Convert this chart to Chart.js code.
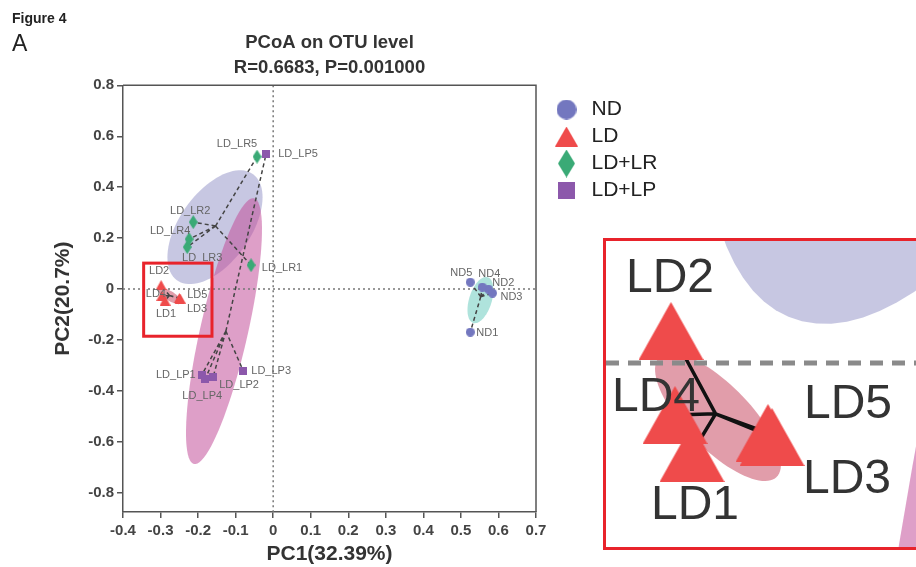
<!DOCTYPE html>
<html>
<head>
<meta charset="utf-8">
<script src="https://cdn.jsdelivr.net/npm/chart.js@4.4.1/dist/chart.umd.min.js"></script>
<style>
html,body{margin:0;padding:0;overflow:hidden;background:#fff;}
body{position:relative;width:916px;height:567px;font-family:"Liberation Sans",Arial,sans-serif;color:#222;}
#main{position:absolute;left:0;top:0;}
#fig{position:absolute;left:12px;top:10px;font-size:14px;font-weight:bold;}
#panel{position:absolute;left:12px;top:30px;font-size:23px;}
#zoomBox{position:absolute;left:603px;top:238px;width:330px;height:306px;border:3px solid #e8232b;background:#fff;}
#inset{display:block;}
</style>
</head>
<body>
<canvas id="main" width="916" height="567"></canvas>
<div id="fig">Figure 4</div>
<div id="panel">A</div>
<div id="zoomBox"><canvas id="inset" width="330" height="306"></canvas></div>
<script>
// Datos
const groupNames=["ND","LD","LD+LR","LD+LP"];
const ndNames=["ND1","ND2","ND3","ND4","ND5"];
const ndPC1=[0.525,0.573,0.584,0.557,0.525];
const ndPC2=[-0.169,0.000,-0.016,0.008,0.027];
const ldNames=["LD1","LD2","LD3","LD4","LD5"];
const ldPC1=[-0.288,-0.2985,-0.248,-0.2965,-0.250];
const ldPC2=[-0.045,0.016,-0.037,-0.026,-0.035];
const lrNames=["LD_LR1","LD_LR2","LD_LR3","LD_LR4","LD_LR5"];
const lrPC1=[-0.059,-0.213,-0.229,-0.224,-0.043];
const lrPC2=[0.094,0.263,0.165,0.196,0.520];
const lpNames=["LD_LP1","LD_LP2","LD_LP3","LD_LP4","LD_LP5"];
const lpPC1=[-0.190,-0.160,-0.080,-0.181,-0.019];
const lpPC2=[-0.337,-0.345,-0.320,-0.353,0.530];

// Elipses de confianza: centro y dos semiejes (unidades PC1/PC2), orden ND, LD, LD+LR, LD+LP
const ellCx=[0.552,-0.275,-0.155,-0.131];
const ellCy=[-0.043,-0.027,0.243,-0.165];
const ellAx=[0.0187,-0.0293,0.1267,0.080];
const ellAy=[0.090,0.030,0.1176,0.5216];
const ellBx=[0.029,0.0115,0,0.062];
const ellBy=[-0.0118,0.0112,-0.190,-0.021];

// Ejes
const xTicks=[-0.4,-0.3,-0.2,-0.1,0,0.1,0.2,0.3,0.4,0.5,0.6,0.7];
const yTicks=[-0.8,-0.6,-0.4,-0.2,0,0.2,0.4,0.6,0.8];
const zoomPC1=[-0.345,-0.163];
const zoomPC2=[-0.185,0.102];
const insetPC1=[-0.331,-0.166];
const insetPC2=[-0.092,0.061];

const groupPC1=[ndPC1,ldPC1,lrPC1,lpPC1];
const groupPC2=[ndPC2,ldPC2,lrPC2,lpPC2];
const groupLabels=[ndNames,ldNames,lrNames,lpNames];

// Estilos
const FONT='"Liberation Sans", Arial, sans-serif';
Chart.defaults.font.family=FONT;
const colors=["#7377bf","#ef4b4b","#3aaa76","#8c58ab"];
const shapes=["circle","triangle","diamond","square"];
const ellFill=["rgba(95,200,185,0.5)","rgba(195,60,85,0.5)","rgba(130,130,190,0.45)","rgba(195,80,155,0.55)"];
const ellOrder=[2,3,0,1];
const sizeMain=[[9,9],[11,10],[9,14],[8,8]];
const sizeLegend=[[20,20],[23,20],[17,28],[17,17]];
const sizeInset=[[40,40],[65,58],[40,62],[38,38]];

const labelShiftMain={ND1:[17,1],ND2:[15,-6],ND3:[19,4],ND4:[7,-13],ND5:[-9,-9],
  LD1:[1,13],LD2:[-2,-14],LD3:[17,10],LD4:[-6,-2],LD5:[18,-3],
  LD_LR1:[31,3],LD_LR2:[-3,-11],LD_LR3:[15,11],LD_LR4:[-19,-8],LD_LR5:[-20,-13],
  LD_LP1:[-26,0],LD_LP2:[26,8],LD_LP3:[28,0],LD_LP4:[-3,17],LD_LP5:[32,0]};
const labelShiftInset={LD1:[3,53],LD2:[-1,-52],LD3:[75,43],LD4:[-19,-17],LD5:[80,-28]};

function marker(shape,w,h,color){
  const c=document.createElement("canvas");c.width=w;c.height=h;
  const g=c.getContext("2d");g.fillStyle=color;g.beginPath();
  if(shape==="circle") g.ellipse(w/2,h/2,w/2,h/2,0,0,Math.PI*2);
  else if(shape==="triangle"){g.moveTo(w/2,0);g.lineTo(w,h);g.lineTo(0,h);g.closePath();}
  else if(shape==="diamond"){g.moveTo(w/2,0);g.lineTo(w,h/2);g.lineTo(w/2,h);g.lineTo(0,h/2);g.closePath();}
  else g.rect(0,0,w,h);
  g.fill();
  return c;
}
const mean=a=>a.reduce((s,v)=>s+v,0)/a.length;

function buildDatasets(sizes,spider){
  const ds=[];
  groupNames.forEach((g,i)=>{
    ds.push({label:g,isGroup:true,order:0,showLine:false,
      data:groupPC1[i].map((v,k)=>({x:v,y:groupPC2[i][k],name:groupLabels[i][k]})),
      pointStyle:marker(shapes[i],sizes[i][0],sizes[i][1],colors[i]),
      pointRadius:Math.max(...sizes[i])/2,pointHoverRadius:Math.max(...sizes[i])/2});
  });
  groupNames.forEach((g,i)=>{
    const cx=mean(groupPC1[i]),cy=mean(groupPC2[i]);
    const pts=[];
    groupPC1[i].forEach((v,k)=>{pts.push({x:cx,y:cy},{x:v,y:groupPC2[i][k]},{x:null,y:null});});
    ds.push({label:g+" spider",order:1,data:pts,showLine:true,spanGaps:false,pointRadius:0,pointHoverRadius:0,
      borderColor:spider.color,borderWidth:spider.width,borderDash:spider.dash});
  });
  return ds;
}

function drawEllipse(ctx,xs,ys,i){
  ctx.beginPath();
  for(let k=0;k<=90;k++){
    const t=k/90*Math.PI*2;
    const px=xs.getPixelForValue(ellCx[i]+ellAx[i]*Math.cos(t)+ellBx[i]*Math.sin(t));
    const py=ys.getPixelForValue(ellCy[i]+ellAy[i]*Math.cos(t)+ellBy[i]*Math.sin(t));
    if(k) ctx.lineTo(px,py); else ctx.moveTo(px,py);
  }
  ctx.closePath();ctx.fillStyle=ellFill[i];ctx.fill();
}

// Plugin: elipses, líneas del cero, etiquetas, marco y recuadro
const pcoaPlugin={
  id:"pcoa",
  beforeDraw(chart,args,o){
    const lg=chart.legend;
    if(o.legendAt&&lg){
      lg.left=o.legendAt[0];lg.top=o.legendAt[1];
      lg.right=lg.left+lg.width;lg.bottom=lg.top+lg.height;
    }
  },
  beforeDatasetsDraw(chart,args,o){
    const {ctx,chartArea:a,scales:{x,y}}=chart;
    ctx.save();
    ctx.beginPath();ctx.rect(a.left,a.top,a.right-a.left,a.bottom-a.top);ctx.clip();
    ellOrder.forEach(i=>drawEllipse(ctx,x,y,i));
    const x0=x.getPixelForValue(0),y0=y.getPixelForValue(0);
    ctx.setLineDash(o.zeroDash);ctx.strokeStyle=o.zeroColor;ctx.lineWidth=o.zeroWidth;
    ctx.beginPath();
    ctx.moveTo(x0,a.top);ctx.lineTo(x0,a.bottom);
    ctx.moveTo(a.left,y0);ctx.lineTo(a.right,y0);
    ctx.stroke();
    ctx.restore();
  },
  afterDatasetsDraw(chart,args,o){
    const {ctx,chartArea:a,scales:{x,y}}=chart;
    ctx.save();
    ctx.beginPath();ctx.rect(a.left,a.top,a.right-a.left,a.bottom-a.top);ctx.clip();
    ctx.font=o.labelFont;ctx.fillStyle=o.labelColor;ctx.textAlign="center";ctx.textBaseline="middle";
    chart.data.datasets.forEach((d,di)=>{
      if(!d.isGroup) return;
      chart.getDatasetMeta(di).data.forEach((pt,k)=>{
        const s=o.labelShift[d.data[k].name];
        if(s) ctx.fillText(d.data[k].name,pt.x+s[0],pt.y+s[1]);
      });
    });
    ctx.restore();
    if(o.frame){
      ctx.save();ctx.strokeStyle="#555";ctx.lineWidth=1.5;
      ctx.beginPath();ctx.moveTo(a.left,a.top);ctx.lineTo(a.right,a.top);ctx.lineTo(a.right,a.bottom);ctx.stroke();
      const l=x.getPixelForValue(zoomPC1[0]),r=x.getPixelForValue(zoomPC1[1]);
      const t=y.getPixelForValue(zoomPC2[1]),b=y.getPixelForValue(zoomPC2[0]);
      ctx.strokeStyle="#e8232b";ctx.lineWidth=3;ctx.strokeRect(l,t,r-l,b-t);
      ctx.restore();
    }
  }
};

const tickFmt=v=>v===0?"0":Number(v).toFixed(1);
const axisGrid={drawOnChartArea:false,drawTicks:true,tickLength:6,color:"#555",lineWidth:1.5};

// Gráfico principal
const mainChart=new Chart(document.getElementById("main"),{
  type:"scatter",
  data:{datasets:buildDatasets(sizeMain,{color:"#444",width:1.5,dash:[4,3]})},
  plugins:[pcoaPlugin],
  options:{
    responsive:false,animation:false,
    layout:{autoPadding:false,padding:{left:0,right:380,top:20,bottom:0}},
    scales:{
      x:{type:"linear",min:-0.4,max:0.7,
        afterBuildTicks:s=>{s.ticks=xTicks.map(v=>({value:v}));},
        afterFit:s=>{s.height=55;},
        ticks:{font:{size:15,weight:"bold"},color:"#444",padding:4,maxRotation:0,autoSkip:false,callback:tickFmt},
        grid:axisGrid,border:{color:"#555",width:1.5},
        title:{display:true,text:"PC1(32.39%)",font:{size:21,weight:"bold"},color:"#333",padding:{top:0,bottom:0}}},
      y:{type:"linear",min:-0.875,max:0.8,
        afterBuildTicks:s=>{s.ticks=yTicks.map(v=>({value:v}));},
        afterFit:s=>{s.width=123;},
        ticks:{font:{size:15,weight:"bold"},color:"#444",padding:3,autoSkip:false,callback:tickFmt},
        grid:axisGrid,border:{color:"#555",width:1.5},
        title:{display:true,text:"PC2(20.7%)",font:{size:21,weight:"bold"},color:"#333",padding:{top:51,bottom:0}}}
    },
    plugins:{
      title:{display:true,fullSize:false,text:["PCoA on OTU level","R=0.6683, P=0.001000"],
        font:{size:18.5,weight:"bold",lineHeight:1.36},color:"#333",padding:{top:10,bottom:5}},
      legend:{display:true,position:"chartArea",align:"start",
        labels:{usePointStyle:true,pointStyleWidth:29,padding:6,color:"#222",font:{size:21},
          generateLabels:chart=>chart.data.datasets.map((d,i)=>({d,i})).filter(e=>e.d.isGroup).map(e=>({
            text:e.d.label,pointStyle:marker(shapes[e.i],sizeLegend[e.i][0],sizeLegend[e.i][1],colors[e.i]),
            fillStyle:colors[e.i],strokeStyle:colors[e.i],lineWidth:0,hidden:false,datasetIndex:e.i,fontColor:"#222"}))}},
      tooltip:{enabled:false},
      pcoa:{legendAt:[546,93],zeroDash:[2,3],zeroColor:"#777",zeroWidth:1.5,
        labelFont:"11px "+FONT,labelColor:"#666",labelShift:labelShiftMain,frame:true}
    }
  }
});

// Recuadro ampliado (grupo LD)
const insetChart=new Chart(document.getElementById("inset"),{
  type:"scatter",
  data:{datasets:buildDatasets(sizeInset,{color:"#111",width:3.5,dash:[]})},
  plugins:[pcoaPlugin],
  options:{
    responsive:false,animation:false,
    layout:{autoPadding:false,padding:0},
    scales:{
      x:{type:"linear",display:false,min:insetPC1[0],max:insetPC1[1]},
      y:{type:"linear",display:false,min:insetPC2[0],max:insetPC2[1]}
    },
    plugins:{
      legend:{display:false},title:{display:false},tooltip:{enabled:false},
      pcoa:{zeroDash:[13,9],zeroColor:"#8a8a8a",zeroWidth:5,
        labelFont:"48px "+FONT,labelColor:"#333",labelShift:labelShiftInset,frame:false}
    }
  }
});
</script>
</body>
</html>
